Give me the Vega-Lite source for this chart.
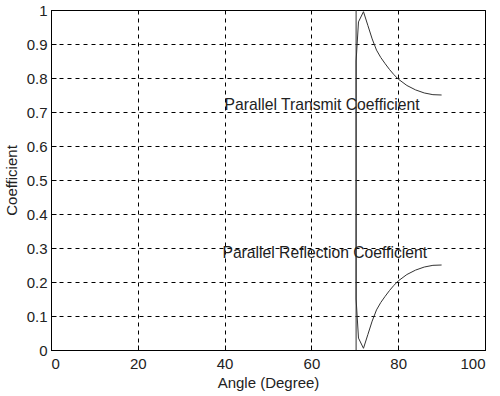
{
  "$schema": "https://vega.github.io/schema/vega-lite/v6.json",
  "width": 434,
  "height": 340,
  "autosize": {"type": "none"},
  "padding": {"left": 51, "top": 10, "right": 15, "bottom": 46},
  "background": "white",
  "config": {
    "font": "Liberation Sans",
    "view": {"stroke": "black", "strokeWidth": 1},
    "axis": {
      "domainColor": "black",
      "domainWidth": 1,
      "grid": true,
      "gridColor": "black",
      "gridDash": [4, 4],
      "gridOpacity": 1,
      "gridWidth": 1,
      "tickColor": "black",
      "tickSize": -5,
      "labelFontSize": 15,
      "labelColor": "#222",
      "titleFontSize": 15,
      "titleFontWeight": "normal",
      "titleColor": "#222",
      "labelOverlap": false,
      "format": ".1~f"
    }
  },
  "encoding": {
    "x": {
      "field": "angle",
      "type": "quantitative",
      "scale": {"domain": [0, 100], "nice": false},
      "axis": {"title": "Angle (Degree)", "values": [0, 20, 40, 60, 80, 100], "labelPadding": 11, "titlePadding": 4}
    },
    "y": {
      "field": "coef",
      "type": "quantitative",
      "scale": {"domain": [0, 1], "nice": false},
      "axis": {"title": "Coefficient", "values": [0, 0.1, 0.2, 0.3, 0.4, 0.5, 0.6, 0.7, 0.8, 0.9, 1], "labelPadding": 9, "titlePadding": 7}
    }
  },
  "layer": [
    {
      "data": {
        "values": [
          {"series": "T", "i": 1, "angle": 70.3, "coef": 0},
          {"series": "T", "i": 2, "angle": 70.3, "coef": 0.85},
          {"series": "T", "i": 3, "angle": 70.85, "coef": 0.965},
          {"series": "T", "i": 4, "angle": 72, "coef": 0.995},
          {"series": "T", "i": 5, "angle": 73, "coef": 0.955},
          {"series": "T", "i": 6, "angle": 74, "coef": 0.915},
          {"series": "T", "i": 7, "angle": 75, "coef": 0.882},
          {"series": "T", "i": 8, "angle": 76, "coef": 0.86},
          {"series": "T", "i": 9, "angle": 77, "coef": 0.842},
          {"series": "T", "i": 10, "angle": 78, "coef": 0.825},
          {"series": "T", "i": 11, "angle": 79, "coef": 0.81},
          {"series": "T", "i": 12, "angle": 80, "coef": 0.797},
          {"series": "T", "i": 13, "angle": 82, "coef": 0.778},
          {"series": "T", "i": 14, "angle": 84, "coef": 0.765},
          {"series": "T", "i": 15, "angle": 86, "coef": 0.756},
          {"series": "T", "i": 16, "angle": 88, "coef": 0.751},
          {"series": "T", "i": 17, "angle": 90, "coef": 0.75},
          {"series": "R", "i": 1, "angle": 70.3, "coef": 1},
          {"series": "R", "i": 2, "angle": 70.3, "coef": 0.15},
          {"series": "R", "i": 3, "angle": 70.85, "coef": 0.035},
          {"series": "R", "i": 4, "angle": 72, "coef": 0.005},
          {"series": "R", "i": 5, "angle": 73, "coef": 0.045},
          {"series": "R", "i": 6, "angle": 74, "coef": 0.085},
          {"series": "R", "i": 7, "angle": 75, "coef": 0.118},
          {"series": "R", "i": 8, "angle": 76, "coef": 0.14},
          {"series": "R", "i": 9, "angle": 77, "coef": 0.158},
          {"series": "R", "i": 10, "angle": 78, "coef": 0.175},
          {"series": "R", "i": 11, "angle": 79, "coef": 0.19},
          {"series": "R", "i": 12, "angle": 80, "coef": 0.203},
          {"series": "R", "i": 13, "angle": 82, "coef": 0.222},
          {"series": "R", "i": 14, "angle": 84, "coef": 0.235},
          {"series": "R", "i": 15, "angle": 86, "coef": 0.244},
          {"series": "R", "i": 16, "angle": 88, "coef": 0.249},
          {"series": "R", "i": 17, "angle": 90, "coef": 0.25}
        ]
      },
      "mark": {"type": "line", "color": "#333", "strokeWidth": 1},
      "encoding": {
        "detail": {"field": "series"},
        "order": {"field": "i", "type": "quantitative"}
      }
    },
    {
      "data": {
        "values": [
          {"angle": 40, "coef": 0.72, "label": "Parallel Transmit Coefficient"},
          {"angle": 39.5, "coef": 0.285, "label": "Parallel Reflection Coefficient"}
        ]
      },
      "mark": {"type": "text", "align": "left", "baseline": "middle", "fontSize": 15.7, "color": "#222"},
      "encoding": {
        "text": {"field": "label"}
      }
    }
  ]
}
